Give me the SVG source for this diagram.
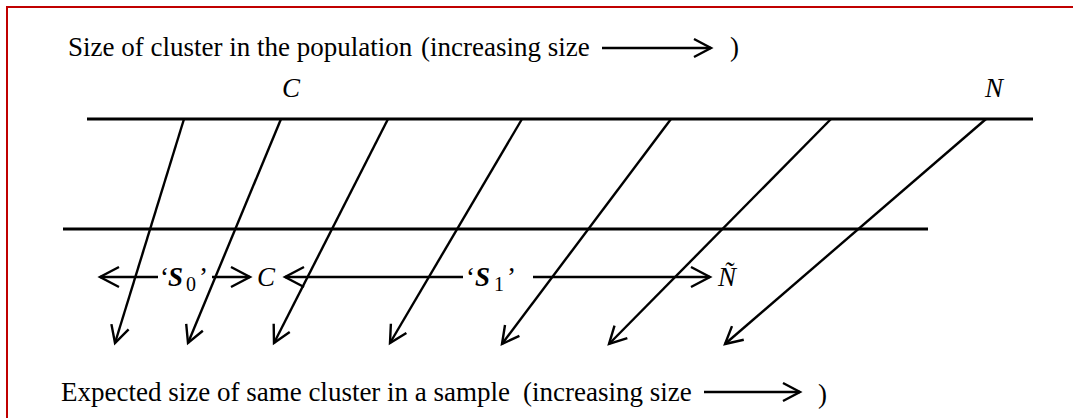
<svg xmlns="http://www.w3.org/2000/svg" width="1073" height="418" viewBox="0 0 1073 418">
<style>
.t{font-family:"Liberation Serif","Times New Roman",serif;font-size:27px;fill:#000}
.i{font-style:italic}
.b{font-weight:bold}
.ln{stroke:#000;stroke-width:2.8;fill:none}
.ar{stroke:#000;stroke-width:2.4;fill:none;marker-end:url(#ah)}
.rg{stroke:#000;stroke-width:2.4;fill:none}
</style>
<defs>
<marker id="ah" markerUnits="userSpaceOnUse" orient="auto" refX="0" refY="0" markerWidth="40" markerHeight="40" overflow="visible">
<path d="M-17,-9 L0,0 L-17,9" fill="none" stroke="#000" stroke-width="2.4"/>
</marker>
<marker id="ah2" markerUnits="userSpaceOnUse" orient="auto-start-reverse" refX="0" refY="0" markerWidth="40" markerHeight="40" overflow="visible">
<path d="M-19,-10 L0,0 L-19,10" fill="none" stroke="#000" stroke-width="2.4"/>
</marker>
</defs>
<rect x="7" y="7" width="1200" height="600" fill="#fff" stroke="#c00000" stroke-width="2"/>
<g id="title">
<text class="t" x="68" y="56">Size of cluster in the population</text>
<text class="t" x="421" y="56">(increasing size</text>
<line class="ar" x1="602" y1="48" x2="711" y2="48"/>
<text class="t" x="730" y="56">)</text>
</g>
<g id="label-C-top"><text class="t i" x="282" y="97">C</text></g>
<g id="label-N-top"><text class="t i" x="985" y="97">N</text></g>
<g id="population-line"><line class="ln" x1="87" y1="119" x2="1033" y2="119"/></g>
<g id="sample-line"><line class="ln" x1="63" y1="229" x2="928" y2="229"/></g>
<g id="connectors">
<line class="ar" x1="184" y1="119" x2="115" y2="343"/>
<line class="ar" x1="281" y1="119" x2="188" y2="343"/>
<line class="ar" x1="388" y1="119" x2="274" y2="343"/>
<line class="ar" x1="522" y1="119" x2="390" y2="343"/>
<line class="ar" x1="671" y1="119" x2="502" y2="344"/>
<line class="ar" x1="831" y1="119" x2="609" y2="344"/>
<line class="ar" x1="986" y1="119" x2="725" y2="344"/>
</g>
<g id="S0-range">
<line class="rg" x1="100" y1="277" x2="158" y2="277" marker-start="url(#ah2)"/>
<line class="rg" x1="212" y1="277" x2="250" y2="277" marker-end="url(#ah2)"/>
<text class="t" y="286"><tspan x="160">‘</tspan><tspan class="b i" x="168">S</tspan><tspan x="186" y="291" font-size="20">0</tspan><tspan x="199" y="286">’</tspan></text>
</g>
<g id="label-C-sample"><text class="t i" x="257" y="286">C</text></g>
<g id="S1-range">
<line class="rg" x1="285" y1="277" x2="463" y2="277" marker-start="url(#ah2)"/>
<line class="rg" x1="533" y1="277" x2="710" y2="277" marker-end="url(#ah2)"/>
<text class="t" y="286"><tspan x="466">‘</tspan><tspan class="b i" x="475">S</tspan><tspan x="494" y="291" font-size="20">1</tspan><tspan x="507" y="286">’</tspan></text>
</g>
<g id="label-N-sample"><text class="t i" x="718" y="286">Ñ</text></g>
<g id="footer">
<text class="t" x="61" y="401">Expected size of same cluster in a sample</text>
<text class="t" x="523" y="401">(increasing size</text>
<line class="ar" x1="704" y1="392" x2="800" y2="392"/>
<text class="t" x="818" y="403" font-size="36">)</text>
</g>
</svg>
